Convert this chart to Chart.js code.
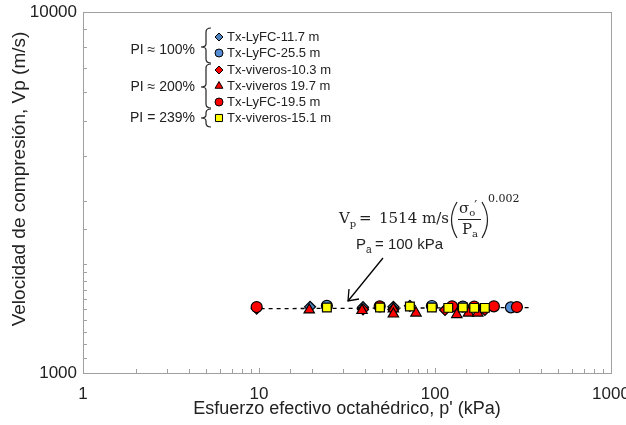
<!DOCTYPE html>
<html><head><meta charset="utf-8">
<script src="https://cdn.jsdelivr.net/npm/chart.js@4.4.0/dist/chart.umd.min.js"></script>
<style>html,body{margin:0;padding:0;background:#fff}</style>
</head><body>
<canvas id="c" width="626" height="425"></canvas>
<script>
// ---- data ----
const xTickLabels = [1, 10, 100, 1000];
const yTickLabels = [1000, 10000];

const lyfc117X = [19.5, 39, 58, 72];
const lyfc117Y = [1525, 1522, 1525, 1535];
const lyfc255X = [24.3, 96, 144, 270];
const lyfc255Y = [1535, 1533, 1528, 1520];
const viv103X = [9.7, 39, 58, 114, 192];
const viv103Y = [1508, 1500, 1500, 1495, 1495];
const viv197X = [19.3, 38.5, 58, 58, 78, 133, 155, 175];
const viv197Y = [1495, 1490, 1505, 1457, 1466, 1452, 1466, 1466];
const lyfc195X = [9.7, 48.5, 125, 167, 216, 292];
const lyfc195Y = [1523, 1530, 1530, 1528, 1530, 1523];
const viv151X = [24.3, 48.7, 72, 96, 119, 144, 167, 192];
const viv151Y = [1518, 1518, 1528, 1518, 1515, 1518, 1515, 1515];
const fitX = [9.2, 354];
const fitY = [1507, 1518];

const legendOrder = ['Tx-LyFC-11.7 m', 'Tx-LyFC-25.5 m', 'Tx-viveros-10.3 m', 'Tx-viveros 19.7 m', 'Tx-LyFC-19.5 m', 'Tx-viveros-15.1 m'];
const groupLabels = ['PI \u2248 100%', 'PI \u2248 200%', 'PI = 239%'];

const FONT = "'Liberation Sans', Arial, sans-serif";
Chart.defaults.font.family = FONT;

function pts(xs, ys) { return xs.map((x, i) => ({x: x, y: ys[i]})); }
function isPow10(v) { const l = Math.log10(v); return Math.abs(l - Math.round(l)) < 1e-6; }

function mk(label, xs, ys, style, fill, r) {
  return {type: 'scatter', label: label, data: pts(xs, ys), pointStyle: style,
    backgroundColor: fill, borderColor: '#000', pointBorderColor: '#000', pointBackgroundColor: fill,
    pointBorderWidth: 1.2, pointRadius: r, pointHoverRadius: r, showLine: false};
}

// index 0 drawn on top
const datasets = [
  mk('Tx-viveros-15.1 m', viv151X, viv151Y, 'rect', '#FFFF00', 6.2),
  mk('Tx-viveros 19.7 m', viv197X, viv197Y, 'triangle', '#FF0000', 6),
  mk('Tx-LyFC-19.5 m', lyfc195X, lyfc195Y, 'circle', '#FF0000', 5.5),
  mk('Tx-viveros-10.3 m', viv103X, viv103Y, 'rectRot', '#FF0000', 5.5),
  mk('Tx-LyFC-25.5 m', lyfc255X, lyfc255Y, 'circle', '#558ED5', 5.5),
  mk('Tx-LyFC-11.7 m', lyfc117X, lyfc117Y, 'rectRot', '#4F81BD', 5.5),
  {type: 'line', label: 'fit', data: pts(fitX, fitY), borderColor: '#000', borderWidth: 1.3,
   borderDash: [4, 4], pointRadius: 0, fill: false, tension: 0}
];

function drawMarker(ctx, style, x, y, r, fill) {
  ctx.save();
  ctx.beginPath();
  if (style === 'circle') { ctx.arc(x, y, r, 0, Math.PI * 2); }
  else if (style === 'rect') { const s = r * Math.SQRT1_2; ctx.rect(x - s, y - s, 2 * s, 2 * s); }
  else if (style === 'rectRot') { ctx.moveTo(x, y - r); ctx.lineTo(x + r, y); ctx.lineTo(x, y + r); ctx.lineTo(x - r, y); ctx.closePath(); }
  else if (style === 'triangle') {
    for (let k = 0; k < 3; k++) { const a = k * 2 * Math.PI / 3; const px = x + Math.sin(a) * r, py = y - Math.cos(a) * r; k ? ctx.lineTo(px, py) : ctx.moveTo(px, py); }
    ctx.closePath();
  }
  ctx.fillStyle = fill; ctx.fill();
  ctx.lineWidth = 1; ctx.strokeStyle = '#000'; ctx.stroke();
  ctx.restore();
}

function brace(ctx, x, y1, y2, ym) {
  ctx.beginPath();
  ctx.moveTo(x + 5, y1);
  ctx.quadraticCurveTo(x, y1, x, y1 + 4);
  ctx.lineTo(x, ym - 3);
  ctx.quadraticCurveTo(x, ym, x - 5, ym);
  ctx.quadraticCurveTo(x, ym, x, ym + 3);
  ctx.lineTo(x, y2 - 4);
  ctx.quadraticCurveTo(x, y2, x + 5, y2);
  ctx.stroke();
}

const decor = {
  id: 'decor',
  beforeDatasetsDraw(chart) {
    const {ctx, chartArea: a} = chart;
    ctx.save();
    ctx.strokeStyle = '#A0A0A0'; ctx.lineWidth = 1;
    ctx.strokeRect(Math.round(a.left) + 0.5, Math.round(a.top) + 0.5, Math.round(a.right - a.left), Math.round(a.bottom - a.top));
    const xs = chart.scales.x, ys = chart.scales.y;
    ctx.beginPath();
    xs.ticks.forEach(t => {
      const px = Math.round(xs.getPixelForValue(t.value)) + 0.5;
      const L = isPow10(t.value) ? 5 : 4;
      ctx.moveTo(px, a.bottom); ctx.lineTo(px, a.bottom - L);
    });
    ys.ticks.forEach(t => {
      const py = Math.round(ys.getPixelForValue(t.value)) + 0.5;
      const L = isPow10(t.value) ? 5 : 4;
      ctx.moveTo(a.left, py); ctx.lineTo(a.left + L, py);
    });
    ctx.stroke();
    ctx.restore();
  },
  afterDraw(chart) {
    const {ctx} = chart;
    ctx.save();
    ctx.fillStyle = '#222';
    ctx.font = '19px ' + FONT;
    ctx.textAlign = 'center'; ctx.textBaseline = 'middle';
    ctx.translate(20, 179); ctx.rotate(-Math.PI / 2);
    ctx.fillText('Velocidad de compresi\u00f3n, Vp (m/s)', 0, 0);
    ctx.restore();

    // legend
    ctx.save();
    const rowY = [37, 53, 70, 86, 102, 118];
    ctx.font = '13px ' + FONT; ctx.fillStyle = '#222';
    ctx.textAlign = 'left'; ctx.textBaseline = 'middle';
    legendOrder.forEach((name, i) => {
      const ds = chart.data.datasets.find(d => d.label === name);
      const r = ds.pointStyle === 'rect' ? 5 : (ds.pointStyle === 'triangle' ? 4.5 : 4);
      drawMarker(ctx, ds.pointStyle, 219, rowY[i], r, ds.pointBackgroundColor);
      ctx.fillStyle = '#222';
      ctx.fillText(name, 227, rowY[i]);
    });
    ctx.strokeStyle = '#222'; ctx.lineWidth = 1.2;
    brace(ctx, 206, 28, 63, 47);
    brace(ctx, 206, 64, 108, 87);
    brace(ctx, 206, 109, 127, 118);
    ctx.font = '14px ' + FONT; ctx.textAlign = 'right';
    ctx.fillText(groupLabels[0], 195, 50);
    ctx.fillText(groupLabels[1], 195, 87);
    ctx.fillText(groupLabels[2], 195, 118);
    ctx.restore();

    // equation
    ctx.save();
    ctx.fillStyle = '#222'; ctx.strokeStyle = '#222';
    const SER = "'DejaVu Serif', 'Liberation Serif', serif";
    ctx.textBaseline = 'alphabetic'; ctx.textAlign = 'left';
    ctx.font = '15px ' + SER;
    ctx.fillText('V', 339, 223);
    const wV = ctx.measureText('V').width;
    ctx.font = '10px ' + SER;
    ctx.fillText('p', 339 + wV, 227);
    ctx.font = '15px ' + SER;
    ctx.fillText('=', 359, 223);
    ctx.fillText('1514 m/s', 379, 223);
    ctx.lineWidth = 1.2;
    ctx.beginPath(); ctx.moveTo(457, 202); ctx.quadraticCurveTo(446, 220, 457, 238); ctx.stroke();
    ctx.beginPath(); ctx.moveTo(482, 202); ctx.quadraticCurveTo(493, 220, 482, 238); ctx.stroke();
    ctx.lineWidth = 1;
    ctx.beginPath(); ctx.moveTo(458, 219.5); ctx.lineTo(481, 219.5); ctx.stroke();
    ctx.font = '15px ' + SER;
    ctx.fillText('\u03c3', 459, 213);
    const ws = ctx.measureText('\u03c3').width;
    ctx.font = '10px ' + SER;
    ctx.fillText('o', 459 + ws, 216);
    ctx.font = '13px ' + SER;
    ctx.fillText('\u2032', 459 + ws + 5, 210);
    ctx.font = '15px ' + SER;
    ctx.fillText('P', 462, 234);
    const wP = ctx.measureText('P').width;
    ctx.font = '10px ' + SER;
    ctx.fillText('a', 462 + wP, 237);
    ctx.font = '11px ' + SER;
    ctx.fillText('0.002', 488, 202);
    ctx.font = '15px ' + FONT;
    ctx.textBaseline = 'middle';
    ctx.fillText('P', 356, 245);
    const wP2 = ctx.measureText('P').width;
    ctx.font = '10px ' + FONT;
    ctx.fillText('a', 356 + wP2, 250);
    ctx.font = '15px ' + FONT;
    ctx.fillText('= 100 kPa', 356 + wP2 + 9, 245);
    ctx.lineWidth = 1.3; ctx.strokeStyle = '#000';
    ctx.beginPath(); ctx.moveTo(383, 258); ctx.lineTo(348, 301); ctx.stroke();
    ctx.beginPath(); ctx.moveTo(349, 289); ctx.lineTo(348, 301); ctx.lineTo(359, 299); ctx.stroke();
    ctx.restore();
  }
};

new Chart(document.getElementById('c'), {
  type: 'scatter',
  data: {datasets: datasets},
  options: {
    responsive: false, animation: false,
    layout: {padding: {left: 0, top: 12, right: 15, bottom: 0}},
    plugins: {legend: {display: false}, tooltip: {enabled: false}},
    scales: {
      x: {
        type: 'logarithmic', min: xTickLabels[0], max: xTickLabels[xTickLabels.length - 1],
        grid: {display: false, drawTicks: false}, border: {display: false},
        ticks: {autoSkip: false, maxRotation: 0, padding: 11, color: '#222', font: {size: 17},
          callback: v => (isPow10(v) && xTickLabels.includes(Math.round(v))) ? String(Math.round(v)) : ''},
        title: {display: true, text: "Esfuerzo efectivo octah\u00e9drico, p' (kPa)", color: '#222',
          font: {size: 18}, padding: {top: 0, bottom: 5}},
        afterFit: s => { s.height = 52; s.paddingLeft = 0; s.paddingRight = 0; }
      },
      y: {
        type: 'logarithmic', min: yTickLabels[0], max: yTickLabels[yTickLabels.length - 1],
        grid: {display: false, drawTicks: false}, border: {display: false},
        ticks: {autoSkip: false, padding: 6, color: '#222', font: {size: 17},
          callback: v => (isPow10(v) && yTickLabels.includes(Math.round(v))) ? String(Math.round(v)) : ''},
        title: {display: false},
        afterFit: s => { s.width = 83; s.paddingTop = 0; s.paddingBottom = 0; }
      }
    }
  },
  plugins: [decor]
});
</script>
</body></html>
